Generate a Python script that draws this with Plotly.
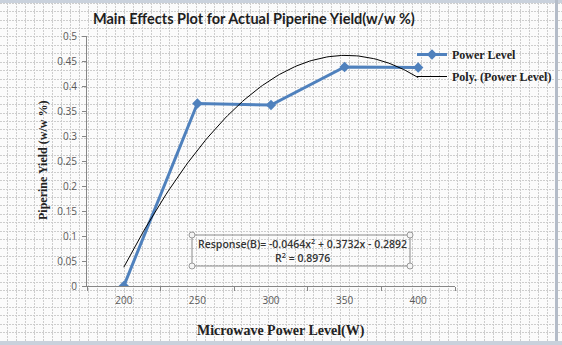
import numpy as np
import plotly.graph_objects as go

# ---- data ----
power_levels = ["200", "250", "300", "350", "400"]
piperine_yield = [0.0, 0.365, 0.362, 0.438, 0.437]
trend_coeffs = [-0.0464, 0.3732, -0.2892]   # Excel poly trendline on category index 1..5
y_tick_vals = [0, 0.05, 0.1, 0.15, 0.2, 0.25, 0.3, 0.35, 0.4, 0.45, 0.5]
y_tick_text = ["0", "0.05", "0.1", "0.15", "0.2", "0.25", "0.3", "0.35", "0.4", "0.45", "0.5"]

W, H = 562, 345
idx = list(range(1, len(power_levels) + 1))
xt = np.linspace(1, len(power_levels), 120)
trend = np.polyval(trend_coeffs, xt)

def px(x):
    return x / W

def py(y):
    return 1 - y / H

fig = go.Figure()

# background spreadsheet grid subplot (drawn first)
fig.add_trace(go.Scatter(x=[None], y=[None], xaxis="x", yaxis="y",
                         showlegend=False, hoverinfo="skip"))

# data
fig.add_trace(go.Scatter(
    x=idx, y=piperine_yield, xaxis="x2", yaxis="y2",
    mode="lines+markers", name="Power Level", legendgroup="a",
    line=dict(color="#4F81BD", width=3),
    marker=dict(symbol="diamond", size=8, color="#4F81BD"),
))
fig.add_trace(go.Scatter(
    x=xt, y=trend, xaxis="x2", yaxis="y2",
    mode="lines", name="Poly. (Power Level)", legendgroup="b",
    line=dict(color="#000000", width=1),
))

grid_color = "#cdcdcd"
fig.update_layout(
    width=W, height=H, autosize=False,
    margin=dict(l=0, r=0, t=0, b=0, pad=0, autoexpand=False),
    paper_bgcolor="#fbfbfb",
    plot_bgcolor="rgba(0,0,0,0)",
    xaxis=dict(domain=[0, 1], range=[0, W], showgrid=True, gridcolor=grid_color,
               griddash="2px,1px", gridwidth=1, tick0=7.3, dtick=9.0,
               showticklabels=False, zeroline=False, showline=False, ticks="",
               fixedrange=True),
    yaxis=dict(domain=[0, 1], range=[H, 0], showgrid=True, gridcolor=grid_color,
               griddash="2px,1px", gridwidth=1, tick0=3.15, dtick=8.45,
               showticklabels=False, zeroline=False, showline=False, ticks="",
               fixedrange=True),
    xaxis2=dict(domain=[px(87), px(455)], anchor="y2", range=[0.5, 5.5],
                tickvals=idx, ticktext=power_levels, showgrid=False, zeroline=False,
                showline=True, linecolor="#868686", linewidth=1,
                ticks="outside", ticklen=5, tickcolor="rgba(0,0,0,0)",
                tickfont=dict(family="Open Sans", size=10, color="#595959"),
                minor=dict(tickvals=[0.5, 1.5, 2.5, 3.5, 4.5, 5.5], ticks="outside",
                           ticklen=4, tickcolor="#868686", showgrid=False)),
    yaxis2=dict(domain=[py(286), py(36)], anchor="x2", range=[0, 0.5],
                tickvals=y_tick_vals, ticktext=y_tick_text, showgrid=False,
                zeroline=False, showline=True, linecolor="#868686", linewidth=1,
                ticks="outside", ticklen=4, tickcolor="#868686",
                ticklabelstandoff=3,
                tickfont=dict(family="Open Sans", size=10, color="#595959")),
    showlegend=True,
    legend=dict(x=px(412), y=py(40), xanchor="left", yanchor="top",
                bgcolor="rgba(0,0,0,0)", itemwidth=30,
                font=dict(family="Liberation Serif", size=12, color="#222222", weight="bold"),
                tracegroupgap=3),
)

# title and axis titles
fig.add_annotation(x=px(254), y=py(18), xref="paper", yref="paper",
                   text="Main Effects Plot for Actual Piperine Yield(w/w %)",
                   showarrow=False, xanchor="center", yanchor="middle",
                   font=dict(family="Lato", size=14.5, color="#1e1e1e", weight="bold"))
fig.add_annotation(x=px(281), y=py(331), xref="paper", yref="paper",
                   text="Microwave Power Level(W)", showarrow=False,
                   xanchor="center", yanchor="middle",
                   font=dict(family="Liberation Serif", size=14, color="#222222", weight="bold"))
fig.add_annotation(x=px(43), y=py(161), xref="paper", yref="paper",
                   text="Piperine Yield (w/w %)", showarrow=False, textangle=-90,
                   xanchor="center", yanchor="middle",
                   font=dict(family="Liberation Serif", size=12, color="#222222", weight="bold"))

# trendline equation box
bx0, bx1, by0, by1 = 192, 410, 235, 266
fig.add_shape(type="rect", xref="paper", yref="paper",
              x0=px(bx0), x1=px(bx1), y0=py(by1), y1=py(by0),
              line=dict(color="#8a8a8a", width=1), fillcolor="rgba(0,0,0,0)")
for cx in (bx0, bx1):
    for cy in (by0, by1):
        fig.add_shape(type="circle", xref="paper", yref="paper",
                      x0=px(cx - 3), x1=px(cx + 3), y0=py(cy + 3), y1=py(cy - 3),
                      line=dict(color="#9a9a9a", width=1), fillcolor="#f4f4f4")
fig.add_annotation(x=px(302), y=py(243), xref="paper", yref="paper",
                   text="Response(B)= -0.0464x<sup>2</sup> + 0.3732x - 0.2892",
                   showarrow=False, xanchor="center", yanchor="middle",
                   font=dict(family="Open Sans", size=10.5, color="#333333", weight=600))
fig.add_annotation(x=px(302), y=py(257), xref="paper", yref="paper",
                   text="R<sup>2</sup> = 0.8976",
                   showarrow=False, xanchor="center", yanchor="middle",
                   font=dict(family="Open Sans", size=10.5, color="#333333", weight=600))

# window frame edges
fig.add_shape(type="rect", xref="paper", yref="paper", x0=0, x1=1, y0=py(3), y1=1,
              line=dict(width=0), fillcolor="#c9d1dc")
fig.add_shape(type="rect", xref="paper", yref="paper", x0=px(555), x1=px(558), y0=0, y1=1,
              line=dict(width=0), fillcolor="#b4bcc8")
fig.add_shape(type="rect", xref="paper", yref="paper", x0=0, x1=1, y0=0, y1=py(341),
              line=dict(width=0), fillcolor="#c9d1dc")

fig.write_html("out.html")
